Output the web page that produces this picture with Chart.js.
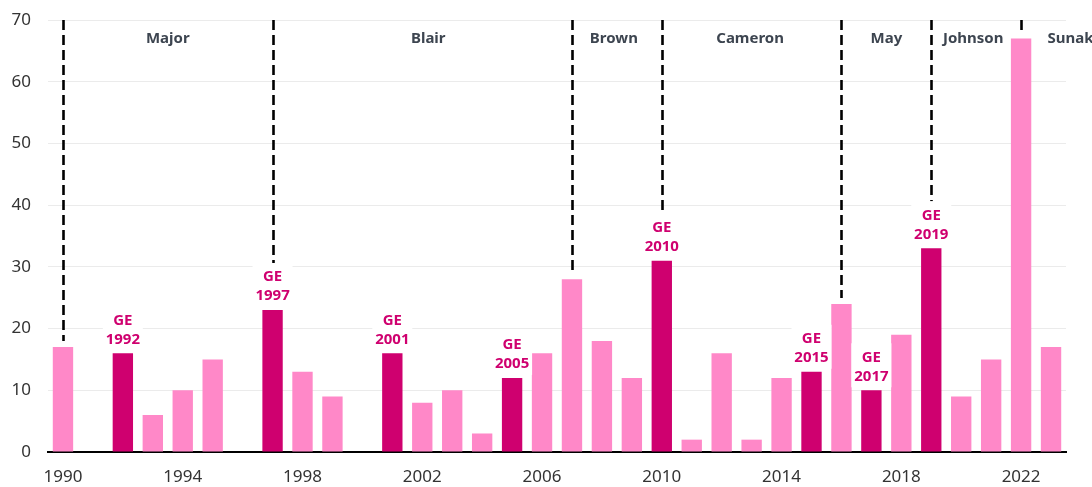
<!DOCTYPE html>
<html>
<head>
<meta charset="utf-8">
<script src="https://cdn.jsdelivr.net/npm/chart.js@4.4.0/dist/chart.umd.min.js"></script>
<style>
  html, body { margin: 0; padding: 0; background: #fff; }
  #wrap { width: 1092px; height: 487px; }
</style>
</head>
<body>
<div id="wrap"><canvas id="chart" width="1092" height="487"></canvas></div>
<script>
const years = ['1990', '1991', '1992', '1993', '1994', '1995', '1996', '1997', '1998', '1999',
  '2000', '2001', '2002', '2003', '2004', '2005', '2006', '2007', '2008', '2009',
  '2010', '2011', '2012', '2013', '2014', '2015', '2016', '2017', '2018', '2019',
  '2020', '2021', '2022', '2023'];
const counts = [17, null, 16, 6, 10, 15, null, 23, 13, 9,
  null, 16, 8, 10, 3, 12, 16, 28, 18, 12,
  31, 2, 16, 2, 12, 13, 24, 10, 19, 33,
  9, 15, 67, 17];
const electionYears = ['1992', '1997', '2001', '2005', '2010', '2015', '2017', '2019'];
const pmStartYears = ['1990', '1997', '2007', '2010', '2016', '2019', '2022'];
const pmNames = ['Major', 'Blair', 'Brown', 'Cameron', 'May', 'Johnson', 'Sunak'];
// where each PM name sits, in year units along the x axis
const pmNameAt = [1993.5, 2002.2, 2008.4, 2012.95, 2017.5, 2020.4, 2023.65];
const yTicks = [0, 10, 20, 30, 40, 50, 60, 70];

const pinkLight = '#ff88c8';
const pinkDark = '#cf006f';

let colors = years.map((y) => (electionYears.includes(y) ? pinkDark : pinkLight));

// dashed PM lines, GE labels and PM names
const overlay = {
  id: 'overlay',
  afterDatasetsDraw(chart) {
    const ctx = chart.ctx;
    const xs = chart.scales.x;
    const ys = chart.scales.y;
    const top = chart.chartArea.top;
    const meta = chart.getDatasetMeta(0);

    function barTop(year) {
      let i = years.indexOf(year);
      return ys.getPixelForValue(counts[i] || 0);
    }

    // dashed lines
    ctx.save();
    ctx.strokeStyle = '#000';
    ctx.lineWidth = 2.6;
    ctx.setLineDash([10, 5]);
    pmStartYears.forEach((y) => {
      let i = years.indexOf(y);
      let x = Math.round(meta.data[i].x) + 0.5;
      let end = barTop(y) - 6;
      if (electionYears.includes(y)) end = barTop(y) - 47;
      ctx.beginPath();
      ctx.moveTo(x, top);
      ctx.lineTo(x, end);
      ctx.stroke();
    });
    ctx.restore();

    // GE labels with white boxes
    ctx.save();
    ctx.font = 'bold 15px "Noto Sans"';
    ctx.textAlign = 'center';
    ctx.textBaseline = 'middle';
    electionYears.forEach((y) => {
      let i = years.indexOf(y);
      let x = meta.data[i].x;
      let t = barTop(y);
      ctx.fillStyle = '#fff';
      ctx.fillRect(x - 20, t - 47, 40, 44);
      ctx.fillStyle = pinkDark;
      ctx.fillText('GE', x, t - 33);
      ctx.fillText(y, x, t - 14);
    });
    ctx.restore();

    // PM names
    ctx.save();
    ctx.font = 'bold 15px "Noto Sans"';
    ctx.fillStyle = '#3d4550';
    ctx.textAlign = 'center';
    ctx.textBaseline = 'middle';
    pmNames.forEach((name, k) => {
      let pos = pmNameAt[k] - 1990;
      let x = xs.getPixelForValue(pos);
      ctx.fillText(name, x, top + 19);
    });
    ctx.restore();
  }
};

new Chart(document.getElementById('chart'), {
  type: 'bar',
  data: {
    labels: years,
    datasets: [
      {
        data: counts,
        backgroundColor: colors,
        borderWidth: 0,
        categoryPercentage: 1,
        barPercentage: 0.68,
      },
    ],
  },
  options: {
    responsive: false,
    animation: false,
    layout: { padding: { top: 20, right: 26, left: 0, bottom: 0 } },
    plugins: {
      legend: { display: false },
      tooltip: { enabled: false },
    },
    scales: {
      x: {
        grid: { display: false, drawTicks: false },
        border: { display: true, color: '#000', width: 2 },
        ticks: {
          autoSkip: false,
          maxRotation: 0,
          padding: 15,
          color: '#333',
          font: { family: 'Noto Sans', size: 17 },
          callback: function (val, idx) {
            return (Number(years[idx]) - 1990) % 4 === 0 ? years[idx] : '';
          },
        },
        afterFit: function (scale) {
          scale.height = 35;
          scale.paddingLeft = 0;
          scale.paddingRight = 0;
        },
      },
      y: {
        min: 0,
        max: 70,
        afterBuildTicks: function (scale) {
          scale.ticks = yTicks.map((v) => ({ value: v }));
        },
        grid: { color: '#ebebeb', lineWidth: 1, drawTicks: false },
        border: { display: false },
        ticks: {
          padding: 17,
          color: '#333',
          font: { family: 'Noto Sans', size: 17 },
        },
        afterFit: function (scale) {
          scale.width = 48;
          scale.paddingTop = 0;
          scale.paddingBottom = 0;
        },
      },
    },
  },
  plugins: [overlay],
});
</script>
</body>
</html>
